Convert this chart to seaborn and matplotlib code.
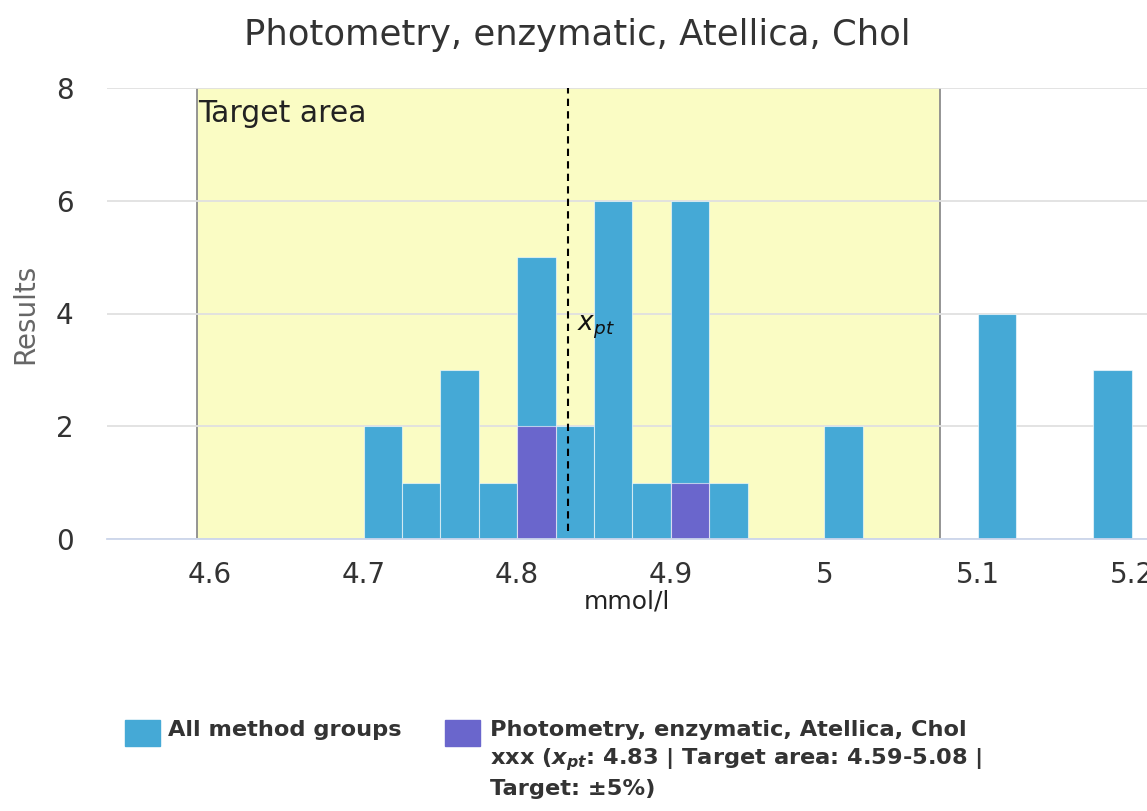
import numpy as np
import pandas as pd
import matplotlib
matplotlib.use("Agg")
import matplotlib.pyplot as plt
import matplotlib.patches as mpatches
import seaborn as sns

# binned results (lower edge of each 0.025 mmol/l bin)
bin_start = [4.700, 4.725, 4.750, 4.775, 4.800, 4.825, 4.850, 4.875, 4.900, 4.925, 5.000, 5.100, 5.175]
all_counts = [2, 1, 3, 1, 5, 2, 6, 1, 6, 1, 2, 4, 3]
group_start = [4.800, 4.900]
group_counts = [2, 1]
bin_width = 0.025

x_pt = 4.833
target_lo = 4.5915
target_hi = 5.075

x_ticks = [4.6, 4.7, 4.8, 4.9, 5.0, 5.1, 5.2]
x_tick_labels = ["4.6", "4.7", "4.8", "4.9", "5", "5.1", "5.2"]
y_ticks = [0, 2, 4, 6, 8]

title = "Photometry, enzymatic, Atellica, Chol"
legend_all = "All method groups"
legend_group = ("Photometry, enzymatic, Atellica, Chol\n"
                "xxx ($\\mathbf{x_{pt}}$: 4.83 | Target area: 4.59-5.08 |\n"
                "Target: ±5%)")

col_all = "#45a9d6"
col_group = "#6a66cc"
col_band = "#fafcc4"

sns.set_style("white")
plt.rcParams["font.family"] = ["DejaVu Sans"]
plt.rcParams["mathtext.fontset"] = "custom"
plt.rcParams["mathtext.it"] = "DejaVu Sans:italic"
plt.rcParams["mathtext.bf"] = "DejaVu Sans:bold:italic"
plt.rcParams["mathtext.rm"] = "DejaVu Sans"

df_all = pd.DataFrame({"value": np.array(bin_start) + bin_width / 2, "n": all_counts})
df_grp = pd.DataFrame({"value": np.array(group_start) + bin_width / 2, "n": group_counts})

fig = plt.figure(figsize=(11.47, 8.11), dpi=100)
ax = fig.add_axes([107 / 1147, 1 - 539 / 811, 1 - 107 / 1147, (539 - 88) / 811])

ax.axvspan(target_lo, target_hi, color=col_band, zorder=0.2, lw=0)
ax.axvline(target_lo, color="#8c8c8c", lw=1.3, zorder=0.3)
ax.axvline(target_hi, color="#8c8c8c", lw=1.3, zorder=0.3)

sns.histplot(data=df_all, x="value", weights="n", binwidth=bin_width, binrange=(4.70, 5.20),
             color=col_all, alpha=1, edgecolor=(1, 1, 1, 0.6), linewidth=0.8, ax=ax, zorder=1)
sns.histplot(data=df_grp, x="value", weights="n", binwidth=bin_width, binrange=(4.80, 4.925),
             color=col_group, alpha=1, edgecolor=(1, 1, 1, 0.6), linewidth=0.8, ax=ax, zorder=2)
for p in ax.patches:
    if isinstance(p, mpatches.Rectangle) and p.get_height() == 0:
        p.set_visible(False)

ax.axvline(x_pt, ymin=0.018, ymax=1, color="black", lw=1.5, ls=(0, (3.5, 2.5)), zorder=3)
ax.text(x_pt + 0.006, 3.75, "$x_{pt}$", fontsize=19, color="#111111", va="center", zorder=4)
ax.text(target_lo + 0.001, 7.55, "Target area", fontsize=21.5, color="#222222", va="center", zorder=4)

ax.set_xlim(4.533, 5.21)
ax.set_ylim(0, 8)
ax.set_xticks(x_ticks)
ax.set_xticklabels(x_tick_labels)
ax.set_yticks(y_ticks)
ax.set_axisbelow(True)
ax.yaxis.grid(True, color="#e0e0e0", lw=1.3)
ax.xaxis.grid(False)
for s in ["top", "right", "left"]:
    ax.spines[s].set_visible(False)
ax.spines["bottom"].set_color("#ccd6eb")
ax.spines["bottom"].set_linewidth(1.3)
ax.tick_params(axis="x", length=7, width=1, color="#ccd6eb", pad=9, labelsize=20, labelcolor="#333333")
ax.tick_params(axis="y", length=0, pad=24, labelsize=20, labelcolor="#333333")
ax.set_xlabel("mmol/l", fontsize=18, color="#222222", labelpad=0)
ax.set_ylabel("Results", fontsize=20, color="#666666", labelpad=12)

fig.suptitle(title, x=0.503, y=1 - 18 / 811, va="top", fontsize=25.5, color="#333333")

# legend drawn at the bottom like the original
fig.patches.append(mpatches.Rectangle((125 / 1147, 1 - 746 / 811), 35 / 1147, 26 / 811,
                                      transform=fig.transFigure, color=col_all))
fig.patches.append(mpatches.Rectangle((445 / 1147, 1 - 746 / 811), 35 / 1147, 26 / 811,
                                      transform=fig.transFigure, color=col_group))
fig.text(168 / 1147, 1 - 720 / 811, legend_all, fontsize=16.2, fontweight="bold",
         color="#333333", va="top")
fig.text(490 / 1147, 1 - 720 / 811, legend_group, fontsize=16.2, fontweight="bold",
         color="#333333", va="top", linespacing=1.36)

fig.savefig("out.png", dpi=100)
